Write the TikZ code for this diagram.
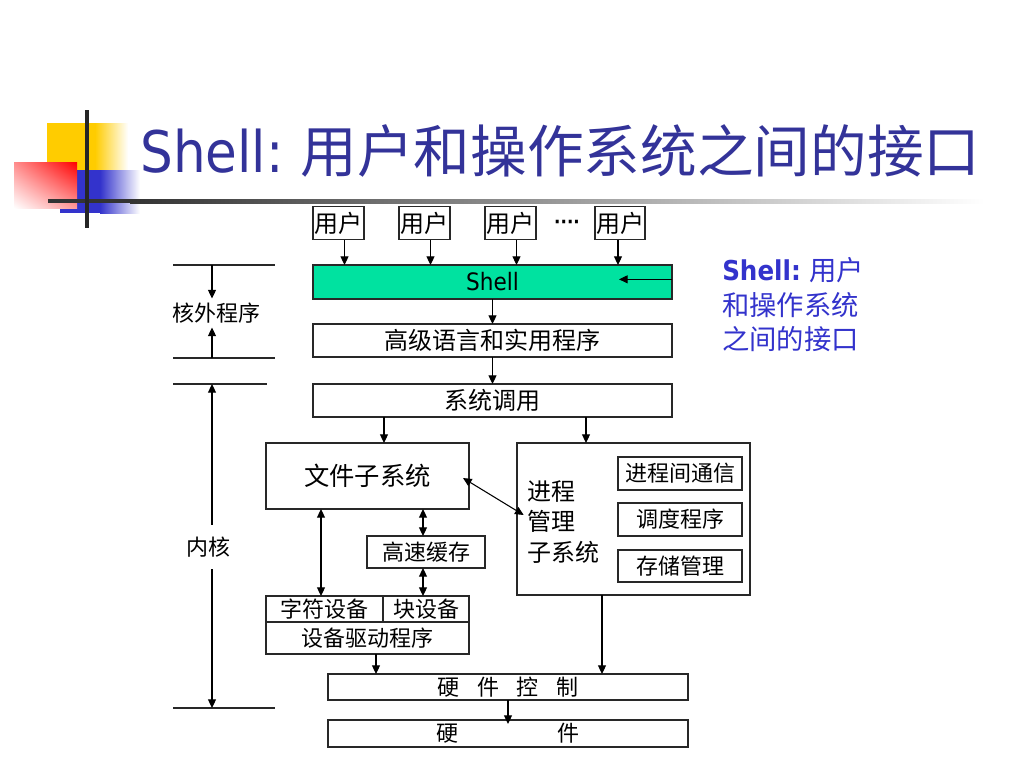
\documentclass[tikz,border=0pt]{standalone}
\usepackage{fontspec}
\setmainfont{Noto Sans CJK SC}
\newfontfamily\tahoma{DejaVu Sans}[FakeStretch=0.9]
\usetikzlibrary{arrows.meta,calc,shadings}
\definecolor{titleblue}{RGB}{51,51,153}
\definecolor{noteblue}{RGB}{51,51,204}
\definecolor{shellgreen}{RGB}{0,226,160}
\definecolor{logoyellow}{RGB}{255,204,0}
\definecolor{logoblue}{RGB}{51,51,204}
\definecolor{logored}{RGB}{255,0,0}
\definecolor{boxline}{RGB}{40,40,40}
\begin{document}
\begin{tikzpicture}[x=0.75pt,y=-0.75pt,
  box/.style 2 args={draw=boxline, line width=0.8pt, inner sep=0pt, outer sep=0pt,
    minimum width=#1*0.75pt, minimum height=#2*0.75pt},
  big/.style={font=\fontsize{18}{21}\selectfont},
  small/.style={font=\fontsize{16.5}{20}\selectfont},
  arr/.style={line width=0.8pt, draw=black, -{Triangle[length=6.5pt,width=6pt]}},
  darr/.style={line width=0.8pt, draw=black, {Triangle[length=6.5pt,width=6pt]}-{Triangle[length=6.5pt,width=6pt]}},
  rule/.style={line width=0.8pt, draw=boxline}
]
\fill[white] (0,0) rectangle (1024,768);
\useasboundingbox (0,0) rectangle (1024,768);

% logo
\fill[logoyellow] (47,123) rectangle (95,170);
\shade[left color=logoyellow, right color=white] (95,123) rectangle (128,170);
\fill[logoblue] (60,170) rectangle (100,213);
\shade[left color=logoblue, right color=white] (100,170) rectangle (140,213);
\shade[upper left=red!45, upper right=logored, lower left=white, lower right=red!40] (14,162) rectangle (77,208);
\fill[black!80] (48,199) rectangle (130,203);
\shade[left color=black!80, right color=white] (130,199) rectangle (985,203);
\draw[line width=3pt, black!85] (87,110) -- (87,228);

% title
\node[anchor=base west, inner sep=0pt, text=titleblue, font=\fontsize{42.5}{48}\selectfont] (title) at (140,172)
  {{\tahoma\fontsize{43}{48}\selectfont Shell:} 用户和操作系统之间的接口};

% users
\node[box={51}{33}, big] (u1) at (338.5,223) {用户};
\node[box={51}{33}, big] (u2) at (424.5,223) {用户};
\node[box={51}{33}, big] (u3) at (510.5,223) {用户};
\node[font=\tahoma\bfseries\fontsize{14}{16}\selectfont, inner sep=0pt] (dots) at (567,224) {····};
\node[box={50}{33}, big] (u4) at (620,223) {用户};

% main stack
\node[box={359}{34}, fill=shellgreen, font=\tahoma\fontsize{18}{21}\selectfont] (shell) at (492.5,282) {Shell};
\node[box={359}{33}, big] (hll) at (492.5,340.5) {高级语言和实用程序};
\node[box={359}{33}, big] (sys) at (492.5,400.5) {系统调用};

\node[box={203}{66}, font=\fontsize{19}{22}\selectfont] (fs) at (367.5,476) {文件子系统};
\node[box={233}{152}] (pm) at (633.5,519) {};
\node[anchor=west, align=left, inner sep=0pt, font=\fontsize{18}{23}\selectfont] (pmtext) at (527,522) {进程\\管理\\子系统};
\node[box={124}{33}, small] (ipc) at (680,473.5) {进程间通信};
\node[box={124}{33}, small] (sch) at (680,519.5) {调度程序};
\node[box={124}{32}, small] (mem) at (680,566) {存储管理};

\node[box={118}{32}, small] (cache) at (426,552) {高速缓存};
\node[box={117}{26}, small] (chr) at (324.5,609) {字符设备};
\node[box={86}{26}, small] (blk) at (426,609) {块设备};
\node[box={203}{32}, small] (drv) at (367.5,638) {设备驱动程序};

\node[box={360}{26}, small] (hwc) at (508,687) {硬\hspace{0.8em}件\hspace{0.8em}控\hspace{0.8em}制};
\node[box={360}{27}, small] (hw) at (508,733.5) {硬\hspace{74pt}件};

% note
\node[anchor=north west, align=left, inner sep=0pt, text=noteblue, font=\fontsize{20.5}{26}\selectfont] (note) at (722,257)
  {{\tahoma\bfseries Shell:} 用户\\和操作系统\\之间的接口};

% user arrows
\path ([xshift=4.5pt]u1.south) coordinate (a1)
      ([xshift=4.5pt]u2.south) coordinate (a2)
      ([xshift=4.5pt]u3.south) coordinate (a3)
      ([xshift=-1.5pt]u4.south) coordinate (a4);
\draw[arr] (a1) -- (a1 |- shell.north);
\draw[arr] (a2) -- (a2 |- shell.north);
\draw[arr] (a3) -- (a3 |- shell.north);
\draw[arr] (a4) -- (a4 |- shell.north);
\draw[arr] ([yshift=2pt]shell.east) -- ++(-53,0);

\draw[arr] (shell) -- (hll);
\draw[arr] (hll) -- (sys);
\draw[arr] (384,0 |- sys.south) -- (384,0 |- fs.north);
\draw[arr] (586,0 |- sys.south) -- (586,0 |- pm.north);
\draw[darr] ([xshift=-4.5pt,yshift=-1.5pt]fs.east) -- ([xshift=5pt,yshift=3pt]pm.west);
\draw[darr] (321,0 |- fs.south) -- (321,0 |- chr.north);
\draw[darr] (423,0 |- fs.south) -- (423,0 |- cache.north);
\draw[darr] (423,0 |- cache.south) -- (423,0 |- blk.north);
\draw[arr] (376,0 |- drv.south) -- (376,0 |- hwc.north);
\draw[arr] (602,0 |- pm.south) -- (602,0 |- hwc.north);
\draw[arr] (hwc) -- ([yshift=-3pt]hw.north);

% left brackets
\coordinate (kt) at (212,265);
\coordinate (kb) at (212,358);
\coordinate (nt) at (212,384);
\coordinate (nb) at (212,708);
\draw[rule] (173,265) -- (275,265);
\draw[rule] (173,358) -- (275,358);
\draw[rule] (173,384) -- (267,384);
\draw[rule] (173,708) -- (275,708);
\node[small, inner xsep=0pt, inner ysep=3pt] (ko) at (216,313) {核外程序};
\node[small, inner xsep=0pt, inner ysep=9pt] (nk) at (208,547) {内核};
\draw[arr] (kt) -- (ko.north -| kt);
\draw[arr] (kb) -- (ko.south -| kb);
\draw[arr] (nk.north -| nt) -- (nt);
\draw[arr] (nk.south -| nb) -- (nb);
\end{tikzpicture}
\end{document}
